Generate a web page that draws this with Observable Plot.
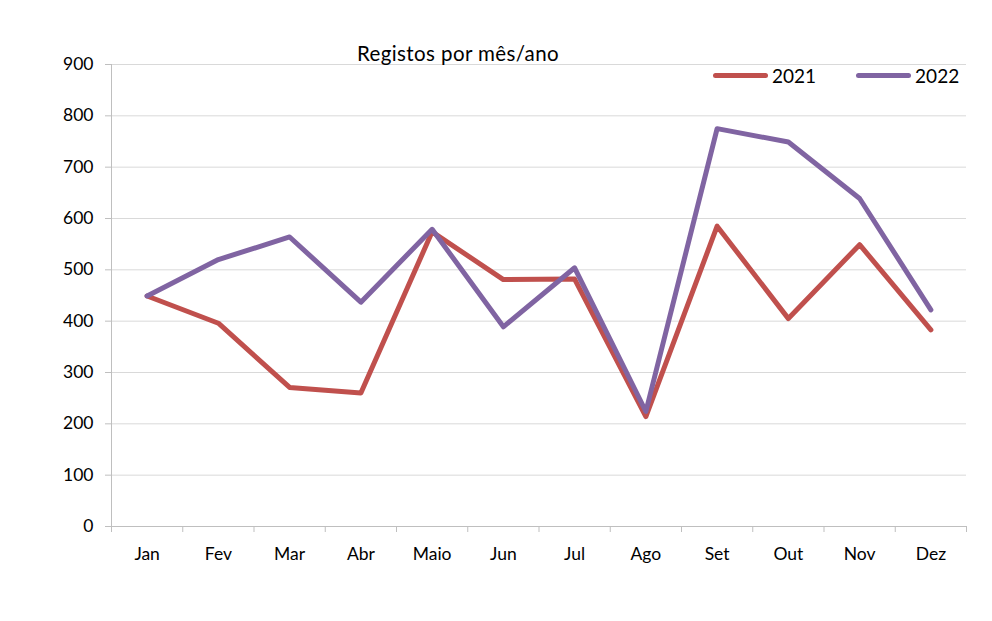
<!DOCTYPE html>
<html>
<head>
<meta charset="utf-8">
<script src="https://cdn.jsdelivr.net/npm/d3@7"></script>
<script src="https://cdn.jsdelivr.net/npm/@observablehq/plot@0.6"></script>
<style>
  body { margin: 0; background: #fff; font-family: Lato, "Open Sans", sans-serif; }
  #wrap { position: relative; width: 992px; height: 621px; overflow: hidden; }
  #title { position: absolute; left: 0; width: 916px; top: 41px; text-align: center; font-size: 20.5px; letter-spacing: 0.4px; color: #000; }
  #legend { position: absolute; top: 64px; left: 713px; font-size: 19px; color: #000; display: flex; align-items: center; }
  .sw { display: inline-block; width: 55px; height: 5px; border-radius: 3px; margin-right: 4px; }
  .item { display: flex; align-items: center; margin-right: 40px; }
</style>
</head>
<body>
<div id="wrap">
  <div id="chart"></div>
  <div id="title">Registos por mês/ano</div>
  <div id="legend"></div>
</div>
<script>
const months = ["Jan","Fev","Mar","Abr","Maio","Jun","Jul","Ago","Set","Out","Nov","Dez"];
const series = ["2021", "2022"];
const values2021 = [449, 396, 271, 260, 574, 481, 482, 214, 585, 405, 549, 383];
const values2022 = [449, 520, 564, 437, 579, 389, 504, 224, 775, 749, 639, 422];
const yTicks = [0, 100, 200, 300, 400, 500, 600, 700, 800, 900];
const colors = ["#c0504d", "#8064a2"];

const data = [];
months.forEach((m, i) => {
  data.push({month: i + 1, label: m, series: "2021", value: values2021[i]});
});
months.forEach((m, i) => {
  data.push({month: i + 1, label: m, series: "2022", value: values2022[i]});
});

const chart = Plot.plot({
  width: 992,
  height: 621,
  marginLeft: 111,
  marginRight: 26,
  marginTop: 64,
  marginBottom: 95,
  style: {fontFamily: "Lato, 'Open Sans', sans-serif", fontSize: "17px", color: "#000", background: "#fff"},
  x: {type: "linear", domain: [0.5, 12.5]},
  y: {domain: [0, 900]},
  color: {domain: series, range: colors},
  marks: [
    Plot.gridY(yTicks, {stroke: "#d9d9d9", strokeOpacity: 1, strokeWidth: 1}),
    Plot.ruleX([0.5], {stroke: "#bfbfbf", strokeWidth: 1}),
    Plot.ruleY([0], {stroke: "#bfbfbf", strokeWidth: 1}),
    Plot.axisY(yTicks, {tickSize: 6, tickPadding: 12, stroke: "#bfbfbf", fill: "#000", label: null, fontSize: 17.5}),
    Plot.axisX(d3.range(0.5, 13, 1), {tickSize: 6, tickFormat: () => "", stroke: "#bfbfbf", label: null}),
    Plot.axisX(d3.range(1, 13), {tickSize: 0, tickPadding: 21, tickFormat: d => months[d - 1], fill: "#000", label: null, fontSize: 17.5}),
    Plot.line(data, {x: "month", y: "value", z: "series", stroke: "series", strokeWidth: 5, strokeLinejoin: "round", strokeLinecap: "round"})
  ]
});
document.getElementById("chart").appendChild(chart);

const legend = document.getElementById("legend");
series.forEach((s, i) => {
  const item = document.createElement("div");
  item.className = "item";
  item.innerHTML = `<span class="sw" style="background:${colors[i]}"></span><span>${s}</span>`;
  legend.appendChild(item);
});
</script>
</body>
</html>
